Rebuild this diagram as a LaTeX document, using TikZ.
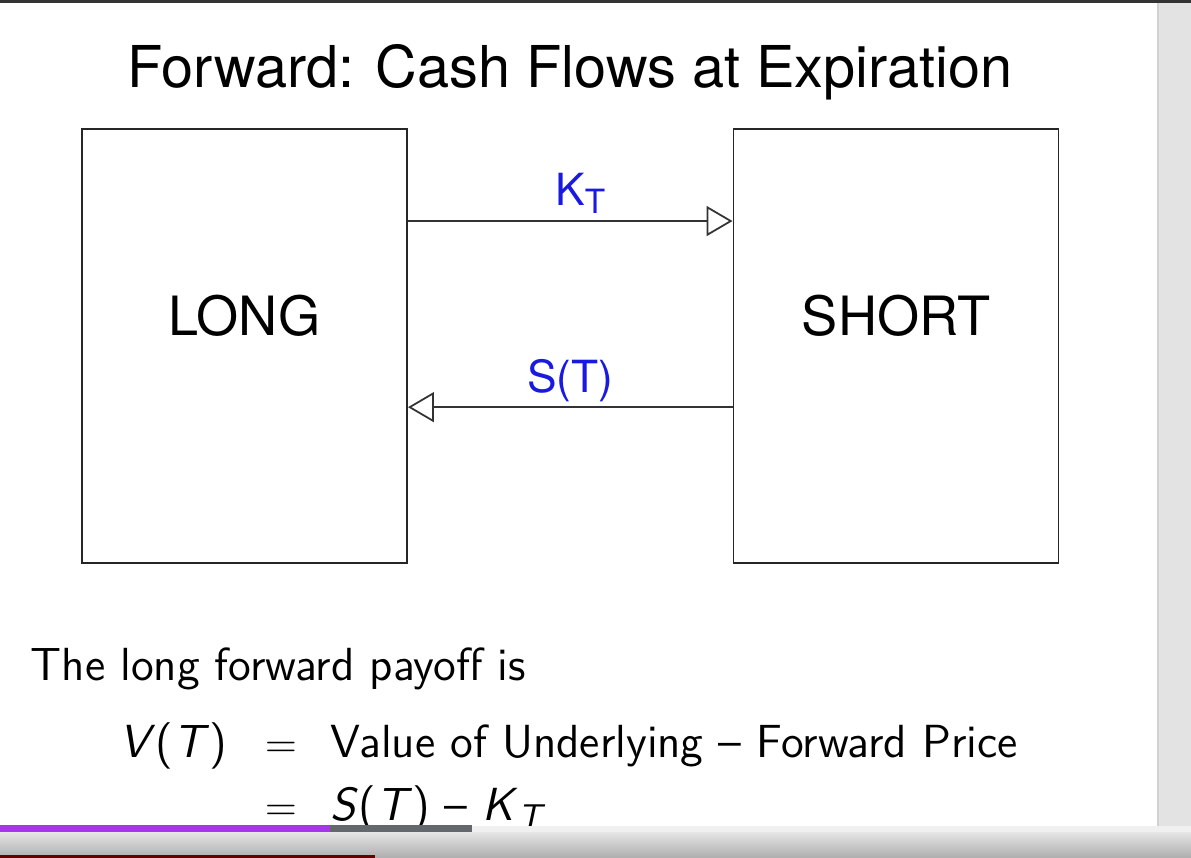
\documentclass[tikz,border=0pt]{standalone}
\usepackage{fontspec}
\newfontfamily\helv{TeX Gyre Heros}
\usetikzlibrary{arrows.meta,positioning,calc}
\definecolor{flow}{RGB}{25,25,225}
\definecolor{barpurple}{RGB}{165,55,235}
\definecolor{barknob}{RGB}{100,104,108}
\newcommand{\subT}{\raisebox{-2.4pt}{\fontsize{9.5}{10}\selectfont T}}
\newcommand{\itsf}[1]{\textsf{\itshape #1}}

\begin{document}
\begin{tikzpicture}[x=0.01cm,y=-0.01cm,
  party/.style={draw=black!85,line width=0.5pt,minimum width=3.25cm,minimum height=4.34cm,inner sep=0pt},
  flowline/.style={draw=black!80,line width=0.5pt,-{Triangle[open,length=0.26cm,width=0.30cm]}},
  flowlbl/.style={font=\helv\fontsize{12.6}{15}\selectfont,text=flow,anchor=base,inner sep=0pt},
  big/.style={font=\helv\fontsize{16.4}{19}\selectfont,anchor=base,inner sep=0pt},
  who/.style={font=\helv\fontsize{15.4}{18}\selectfont,anchor=base,inner sep=0pt},
  body/.style={font=\sffamily\fontsize{13.2}{15}\selectfont,inner sep=0pt}]
  \useasboundingbox (0,0) rectangle (1191,858);
  % title
  \node[big] (title) at (570,88) {Forward: Cash Flows at Expiration};
  % the two parties
  \node[party] (long) at (244.5,346) {};
  \node[party] (short) at (896,346) {};
  \node[who] (longlbl) at ([yshift=0.1cm]long.center) {LONG};
  \node[who] (shortlbl) at ([yshift=0.1cm]short.center) {SHORT};
  % cash flows
  \draw[flowline] ([yshift=-0.93cm]long.north east) -- node[flowlbl,yshift=0.16cm,xshift=0.1cm] (kt) {K\subT} ([yshift=-0.93cm]short.north west);
  \draw[flowline] ([yshift=-2.79cm]short.north west) -- node[flowlbl,yshift=0.15cm] (st) {S(T)} ([yshift=-2.79cm]long.north east);
  % payoff
  \node[body,anchor=base west] (intro) at (30,680) {The long forward payoff is};
  \node[body,anchor=base east] (vt) at (228,757) {\itsf{V}(\itsf{T})};
  \node[body,anchor=base] (eq1) at (281,757) {$=$};
  \node[body,anchor=base west] (rhs1) at (330,757) {Value of Underlying -- Forward Price};
  \node[body,anchor=base] (eq2) at (281,820) {$=$};
  \node[body,anchor=base west] (rhs2) at (330,820) {\itsf{S}(\itsf{T}) -- \itsf{K}\raisebox{-2.4pt}{\fontsize{9.8}{10}\selectfont\itsf{T}}};
  % player frame
  \fill[black!80] (0,0) rectangle (1191,3);
  \fill[black!11] (1158,3) rectangle (1191,826);
  \draw[black!18] (1158,3) -- (1158,826);
  \fill[black!6] (0,826) rectangle (1191,832);
  \shade[top color=black!10,bottom color=black!32] (0,832) rectangle (1191,858);
  \fill[barpurple] (0,825) rectangle (330,832);
  \fill[barknob] (330,825) rectangle (472,832);
  \fill[red!40!black] (0,855) rectangle (375,858);
\end{tikzpicture}
\end{document}
